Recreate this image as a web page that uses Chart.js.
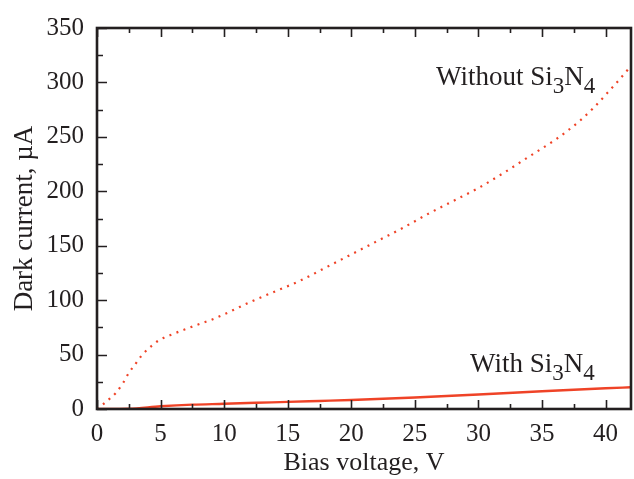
<!DOCTYPE html>
<html>
<head>
<meta charset="utf-8">
<script src="https://cdn.jsdelivr.net/npm/chart.js@4/dist/chart.umd.min.js"></script>
<style>
  html, body { margin: 0; padding: 0; background: #fff; }
  #wrap { width: 634px; height: 479px; }
</style>
</head>
<body>
<div id="wrap"><canvas id="darkChart" width="634" height="479"></canvas></div>
<script>
// bias voltage (V) and dark current (uA)
const withoutV = [0, 0.5, 1, 1.5, 2, 2.5, 3, 3.5, 4, 4.5, 5, 6, 7, 8, 9, 10, 12, 14, 16, 18, 20, 22, 24, 26, 28, 30, 32, 34, 36, 37, 38, 39, 40, 41, 42];
const withoutI = [0, 4.5, 9.5, 15, 23, 33, 41, 49, 55, 60, 64, 69, 73.5, 77.8, 82, 87, 98, 108, 118, 130, 142, 154, 166, 179, 191, 203, 217, 232, 247, 255.5, 265, 276, 288.5, 301.5, 315];
const withV = [0, 2.5, 5, 7.5, 10, 12.5, 15, 17.5, 20, 25, 30, 35, 40, 42];
const withI = [0, 0.3, 2.5, 4, 4.8, 5.7, 6.5, 7.4, 8.3, 10.5, 13.3, 16.3, 19, 20];
const xTicks = [0, 5, 10, 15, 20, 25, 30, 35, 40];
const yTicks = [0, 50, 100, 150, 200, 250, 300, 350];

const red = '#ef4327';
const ink = '#231f20';
const serif = '"Liberation Serif", "DejaVu Serif", serif';

function toPoints(xs, ys) {
    return xs.map((x, i) => ({ x: x, y: ys[i] }));
}

// frame with inward ticks on left, bottom and top
const framePlugin = {
    id: 'frame',
    afterDatasetsDraw(chart) {
        const { ctx, chartArea: a, scales } = chart;
        const xs = scales.x, ys = scales.y;
        ctx.save();
        ctx.strokeStyle = ink;
        ctx.lineWidth = 1.6;
        ctx.beginPath();
        for (let v = 0; v <= 42; v += 2.5) {
            const px = Math.round(xs.getPixelForValue(v)) + 0.5;
            const len = (v % 5 === 0) ? 9 : 5;
            ctx.moveTo(px, a.bottom); ctx.lineTo(px, a.bottom - len);
            ctx.moveTo(px, a.top); ctx.lineTo(px, a.top + len);
        }
        for (let v = 0; v <= 350; v += 25) {
            const py = Math.round(ys.getPixelForValue(v)) + 0.5;
            const len = (v % 50 === 0) ? 10 : 6;
            ctx.moveTo(a.left, py); ctx.lineTo(a.left + len, py);
        }
        ctx.stroke();
        ctx.lineWidth = 2.6;
        ctx.strokeRect(a.left, a.top, a.right - a.left, a.bottom - a.top);
        ctx.restore();
    }
};

// text with subscripts, e.g. Si3N4
function drawFormula(ctx, parts, x, y) {
    let cx = x;
    parts.forEach(p => {
        ctx.font = p.sub ? '23px ' + serif : '27px ' + serif;
        ctx.fillText(p.t, cx, p.sub ? y + 8 : y);
        cx += ctx.measureText(p.t).width;
    });
}

const labelPlugin = {
    id: 'curveLabels',
    afterDraw(chart) {
        const ctx = chart.ctx;
        ctx.save();
        ctx.fillStyle = ink;
        ctx.textBaseline = 'alphabetic';
        drawFormula(ctx, [{ t: 'Without Si' }, { t: '3', sub: true }, { t: 'N' }, { t: '4', sub: true }], 436, 85);
        drawFormula(ctx, [{ t: 'With Si' }, { t: '3', sub: true }, { t: 'N' }, { t: '4', sub: true }], 470, 372);
        ctx.restore();
    }
};

new Chart(document.getElementById('darkChart').getContext('2d'), {
    type: 'line',
    data: {
        datasets: [{
            label: 'Without Si3N4',
            data: toPoints(withoutV, withoutI),
            borderColor: red,
            borderWidth: 2.2,
            borderDash: [2, 5.5],
            pointRadius: 0,
            cubicInterpolationMode: 'monotone',
            fill: false
        }, {
            label: 'With Si3N4',
            data: toPoints(withV, withI),
            borderColor: red,
            borderWidth: 2.4,
            pointRadius: 0,
            cubicInterpolationMode: 'monotone',
            fill: false
        }]
    },
    options: {
        responsive: false,
        animation: false,
        layout: { padding: { top: 17, right: 3, left: 0, bottom: 0 } },
        plugins: { legend: { display: false }, tooltip: { enabled: false } },
        scales: {
            x: {
                type: 'linear',
                min: 0,
                max: 42,
                afterBuildTicks: s => { s.ticks = xTicks.map(v => ({ value: v })); },
                afterFit: s => { s.height = 70; },
                grid: { display: false, drawTicks: false },
                border: { display: false },
                ticks: { color: ink, padding: 10, maxRotation: 0, font: { family: serif, size: 25 } },
                title: { display: true, text: 'Bias voltage, V', color: ink, padding: { top: 0, bottom: 0 }, font: { family: serif, size: 26 } }
            },
            y: {
                min: 0,
                max: 350,
                afterBuildTicks: s => { s.ticks = yTicks.map(v => ({ value: v })); },
                afterFit: s => { s.width = 97; },
                grid: { display: false, drawTicks: false },
                border: { display: false },
                ticks: { color: ink, padding: 13, font: { family: serif, size: 25 } },
                title: { display: true, text: 'Dark current, µA', color: ink, padding: { top: 9, bottom: 0 }, font: { family: serif, size: 27 } }
            }
        }
    },
    plugins: [framePlugin, labelPlugin]
});
</script>
</body>
</html>
